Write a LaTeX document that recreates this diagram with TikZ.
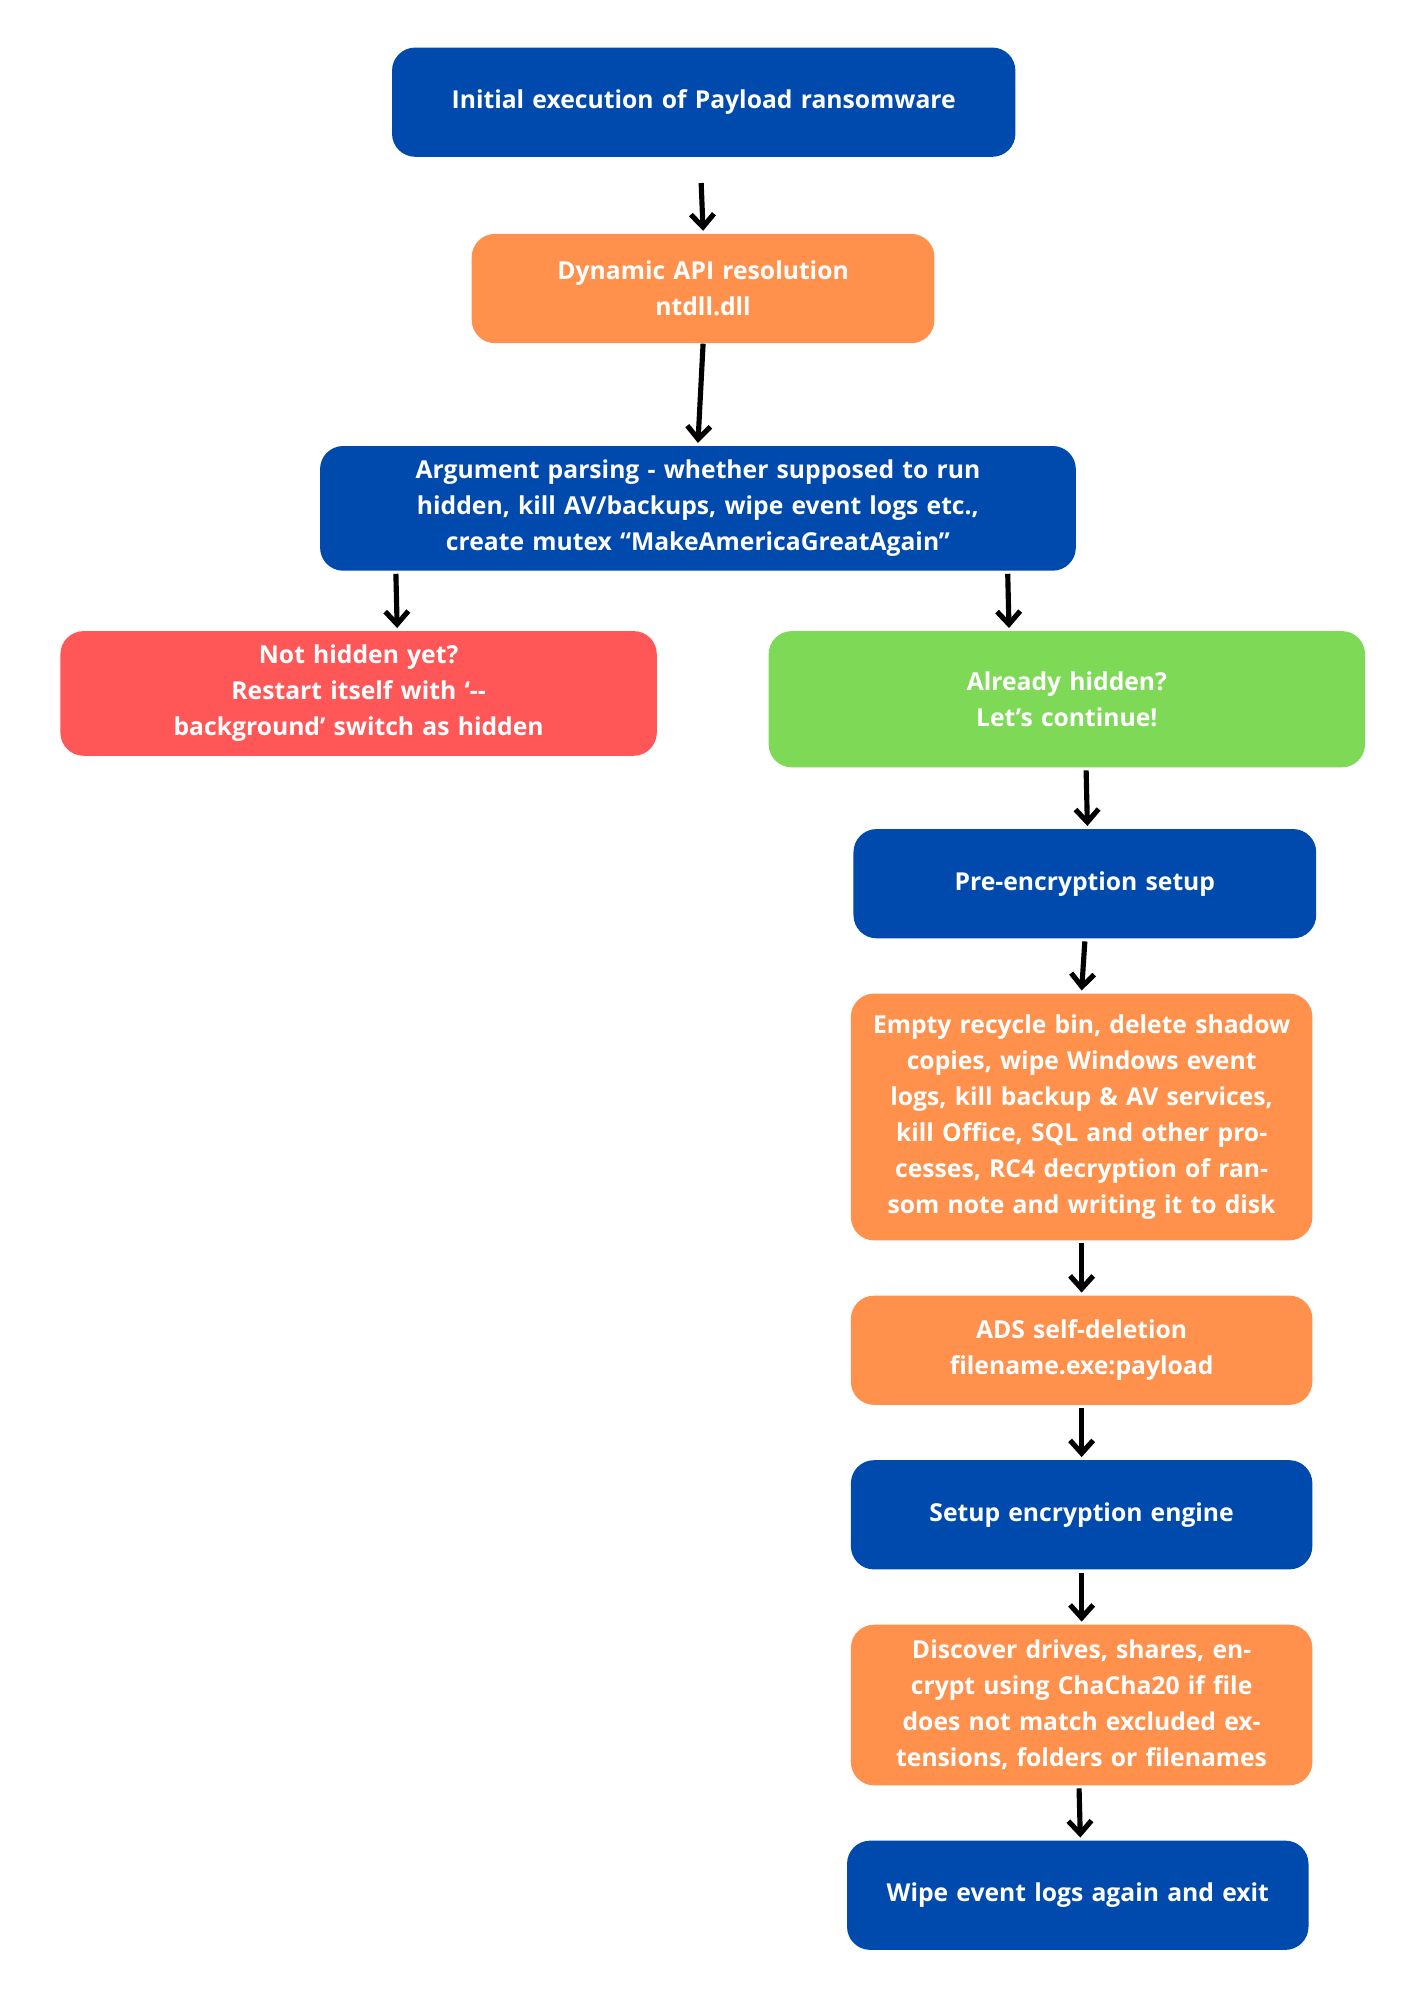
\documentclass[tikz,border=0pt]{standalone}
\usepackage{fontspec}
\setmainfont{Open Sans}
\usetikzlibrary{arrows.meta}
\definecolor{cblue}{HTML}{004AAD}
\definecolor{corange}{HTML}{FF914D}
\definecolor{cred}{HTML}{FF5757}
\definecolor{cgreen}{HTML}{7ED957}
\begin{document}
\begin{tikzpicture}[x=0.5pt,y=-0.5pt,
 box/.style={rounded corners=9pt, text=white, align=center, font=\bfseries\fontsize{9.6}{14}\selectfont, inner sep=0pt},
 arr/.style={line width=2pt, -{Straight Barb[length=5pt,width=9pt,line width=2pt]}}]
\useasboundingbox[fill=white] (0,0) rectangle (1100,1556);
\newcommand\bx[8]{\node[box,fill=#2,minimum width=#5*0.5pt-#3*0.5pt,minimum height=#6*0.5pt-#4*0.5pt,text width=#7*0.5pt] (#1) at ({(#3+#5)/2},{(#4+#6)/2}) {#8};}
\bx{a}{cblue}{305}{37}{790}{122}{460}{Initial execution of Payload ransomware}
\bx{b}{corange}{367}{182}{727}{267}{340}{Dynamic API resolution\\ntdll.dll}
\bx{c}{cblue}{249}{347}{837}{444}{580}{Argument parsing - whether supposed to run hidden, kill AV/backups, wipe event logs etc.,\\create mutex “MakeAmericaGreatAgain”}
\bx{d}{cred}{47}{491}{511}{588}{440}{Not hidden yet?\\Restart itself with ‘-{}-background’ switch as hidden}
\bx{e}{cgreen}{598}{491}{1062}{597}{440}{Already hidden?\\Let’s continue!}
\bx{f}{cblue}{664}{645}{1024}{730}{340}{Pre-encryption setup}
\bx{g}{corange}{662}{773}{1021}{965}{345}{Empty recycle bin, delete shadow copies, wipe Windows event logs, kill backup \& AV services, kill Office, SQL and other processes, RC4 decryption of ransom note and writing it to disk}
\bx{h}{corange}{662}{1008}{1021}{1093}{340}{ADS self-deletion\\filename.exe:payload}
\bx{i}{cblue}{662}{1136}{1021}{1221}{340}{Setup encryption engine}
\bx{j}{corange}{662}{1264}{1021}{1389}{345}{Discover drives, shares, encrypt using ChaCha20 if file does not match excluded extensions, folders or filenames}
\bx{k}{cblue}{659}{1432}{1018}{1517}{340}{Wipe event logs again and exit}
\draw[arr] ([xshift=-1pt,yshift=-5\pgflinewidth]a.south) -- ([yshift=1pt]b.north);
\draw[arr] (b.south) -- ([yshift=1pt]c.north);
\draw[arr] ([xshift=-117.5pt,yshift=-1pt]c.south) -- ([xshift=-117pt,yshift=1pt]c.south |- d.north);
\draw[arr] ([xshift=120.5pt,yshift=-1pt]c.south) -- ([xshift=121pt,yshift=1pt]c.south |- e.north);
\draw[arr] ([xshift=7.5pt,yshift=-1pt]e.south) -- ([xshift=1pt,yshift=1pt]f.north);
\draw[arr] ([yshift=-1pt]f.south) -- ([yshift=1pt]g.north);
\draw[arr] ([yshift=-1pt]g.south) -- ([yshift=1pt]h.north);
\draw[arr] ([yshift=-1pt]h.south) -- ([yshift=1pt]i.north);
\draw[arr] ([yshift=-1pt]i.south) -- ([yshift=1pt]j.north);
\draw[arr] ([xshift=-1pt,yshift=-1pt]j.south) -- ([xshift=1pt,yshift=1pt]k.north);
\end{tikzpicture}
\end{document}
